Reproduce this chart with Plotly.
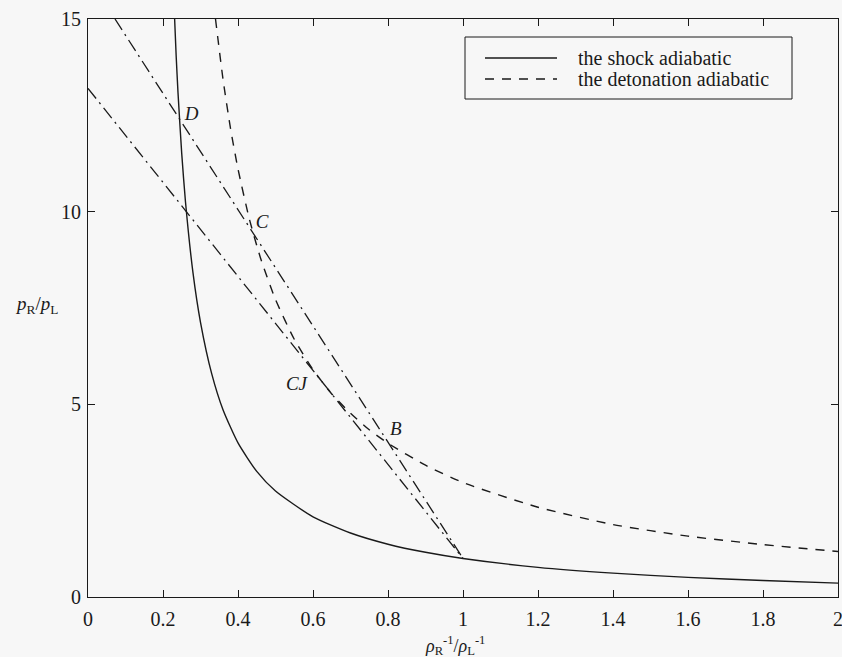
import plotly.graph_objects as go

# ---- data ----
shock_x = [0.231, 0.235, 0.24, 0.25, 0.26, 0.28, 0.30, 0.33, 0.36, 0.40, 0.45, 0.50,
           0.60, 0.70, 0.80, 0.90, 1.00, 1.20, 1.40, 1.60, 1.80, 2.00]
shock_y = [15.0, 14.06, 13.09, 11.5, 10.25, 8.41, 7.13, 5.79, 4.86, 4.00, 3.26, 2.75,
           2.08, 1.66, 1.37, 1.16, 1.00, 0.77, 0.62, 0.51, 0.43, 0.36]

det_x = [0.340, 0.36, 0.38, 0.40, 0.43, 0.46, 0.50, 0.55, 0.60, 0.65, 0.70, 0.75,
         0.80, 0.90, 1.00, 1.20, 1.40, 1.60, 1.80, 2.00]
det_y = [15.0, 13.44, 12.16, 11.11, 9.82, 8.80, 7.72, 6.69, 5.90, 5.27, 4.77, 4.34,
         3.99, 3.42, 2.97, 2.33, 1.88, 1.58, 1.36, 1.18]

ray_upper_x = [0.072, 1.0]
ray_upper_y = [15.0, 1.0]
ray_lower_x = [0.0, 1.0]
ray_lower_y = [13.2, 1.0]

point_labels = ["D", "C", "CJ", "B"]
point_lx = [0.276, 0.464, 0.556, 0.821]
point_ly = [12.5, 9.7, 5.5, 4.33]

x_ticks = [0, 0.2, 0.4, 0.6, 0.8, 1, 1.2, 1.4, 1.6, 1.8, 2]
x_ticktext = ["0", "0.2", "0.4", "0.6", "0.8", "1", "1.2", "1.4", "1.6", "1.8", "2"]
y_ticks = [0, 5, 10, 15]

legend_names = ["the shock adiabatic", "the detonation adiabatic"]

# ---- styling ----
INK = "#1a1a1a"
BG = "#f7f7f7"
FONT = "Liberation Serif, 'Times New Roman', 'DejaVu Serif', serif"
DASH = "9px,8px"
DASHDOT = "13px,5px,2px,5px"

fig = go.Figure()
fig.add_trace(go.Scatter(x=shock_x, y=shock_y, mode="lines", name=legend_names[0],
                         line=dict(color=INK, width=1.4, shape="spline", smoothing=0.6),
                         showlegend=False))
fig.add_trace(go.Scatter(x=det_x, y=det_y, mode="lines", name=legend_names[1],
                         line=dict(color=INK, width=1.4, dash=DASH, shape="spline", smoothing=0.6),
                         showlegend=False))
fig.add_trace(go.Scatter(x=ray_upper_x, y=ray_upper_y, mode="lines", name="Rayleigh line",
                         line=dict(color=INK, width=1.3, dash=DASHDOT), showlegend=False))
fig.add_trace(go.Scatter(x=ray_lower_x, y=ray_lower_y, mode="lines", name="Rayleigh line (CJ)",
                         line=dict(color=INK, width=1.3, dash=DASHDOT), showlegend=False))
fig.add_trace(go.Scatter(x=point_lx, y=point_ly, mode="text", text=point_labels,
                         textfont=dict(family=FONT, size=19, color=INK, style="italic"),
                         showlegend=False, hoverinfo="skip"))

# plot area in pixels: x 88..838, y 19..597
L, R, T, B = 88, 838, 19, 597
def px(xp):
    return (xp - L) / (R - L)
def py(yp):
    return (B - yp) / (B - T)

# manual legend
shapes = [
    dict(type="rect", xref="paper", yref="paper", x0=px(465), x1=px(792), y0=py(99), y1=py(37),
         line=dict(color=INK, width=1), fillcolor=BG, layer="above"),
    dict(type="line", xref="paper", yref="paper", x0=px(485), x1=px(557), y0=py(58), y1=py(58),
         line=dict(color=INK, width=1.3)),
    dict(type="line", xref="paper", yref="paper", x0=px(485), x1=px(557), y0=py(79), y1=py(79),
         line=dict(color=INK, width=1.3, dash=DASH)),
]
annotations = [
    dict(xref="paper", yref="paper", x=px(576), y=py(58), text=legend_names[0], showarrow=False,
         xanchor="left", yanchor="middle", font=dict(family=FONT, size=20, color=INK)),
    dict(xref="paper", yref="paper", x=px(576), y=py(79), text=legend_names[1], showarrow=False,
         xanchor="left", yanchor="middle", font=dict(family=FONT, size=20, color=INK)),
    dict(xref="paper", yref="paper", x=px(36), y=py(305),
         text="<i>p</i><sub>R</sub>/<i>p</i><sub>L</sub>", showarrow=False,
         xanchor="center", yanchor="middle", font=dict(family=FONT, size=19, color=INK)),
    dict(xref="paper", yref="paper", x=px(455), y=py(645),
         text="<i>ρ</i><sub>R</sub><sup>-1</sup>/<i>ρ</i><sub>L</sub><sup>-1</sup>", showarrow=False,
         xanchor="center", yanchor="middle", font=dict(family=FONT, size=18, color=INK)),
]

axis_common = dict(showgrid=False, zeroline=False, showline=True, linecolor=INK, linewidth=1.2,
                   mirror="allticks", ticks="inside", ticklen=7, tickcolor=INK, tickwidth=1,
                   tickfont=dict(family=FONT, size=20, color=INK), automargin=False,
                   ticklabeloverflow="allow")

fig.update_layout(
    width=842, height=657,
    margin=dict(l=L, r=842 - R, t=T, b=657 - B, autoexpand=False),
    paper_bgcolor=BG, plot_bgcolor=BG,
    shapes=shapes, annotations=annotations,
    xaxis=dict(range=[0, 2], tickvals=x_ticks, ticktext=x_ticktext,
               ticklabelstandoff=4, **axis_common),
    yaxis=dict(range=[0, 15], tickvals=y_ticks, ticklabelstandoff=2, **axis_common),
    font=dict(family=FONT, color=INK),
)

fig.write_html("out.html", config={"displayModeBar": False},
               post_script="document.body.style.margin='0';document.body.style.overflow='hidden';")
